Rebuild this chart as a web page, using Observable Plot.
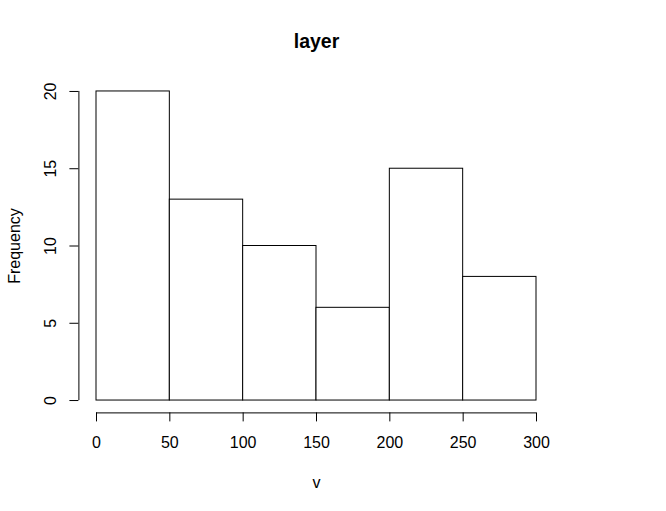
<!DOCTYPE html>
<html>
<head>
<meta charset="utf-8">
<script src="https://cdn.jsdelivr.net/npm/d3@7"></script>
<script src="https://cdn.jsdelivr.net/npm/@observablehq/plot@0.6"></script>
<style>
  html, body { margin: 0; padding: 0; background: #fff; }
</style>
</head>
<body>
<div id="chart"></div>
<script>
const binStart = [0, 50, 100, 150, 200, 250];
const binEnd   = [50, 100, 150, 200, 250, 300];
const counts   = [20, 13, 10, 6, 15, 8];
const xTicks   = [0, 50, 100, 150, 200, 250, 300];
const yTicks   = [0, 5, 10, 15, 20];
const title    = "layer";
const xLabel   = "v";
const yLabel   = "Frequency";

const bins = binStart.map((s, i) => ({x1: s, x2: binEnd[i], y: counts[i]}));

const font = "'Liberation Sans', Arial, Helvetica, sans-serif";

const chart = Plot.plot({
  width: 666,
  height: 511,
  marginLeft: 78.4,
  marginRight: 112.4,
  marginTop: 78.6,
  marginBottom: 98.6,
  style: {fontFamily: font, background: "#fff", color: "#000"},
  x: {domain: [-12, 312], axis: null},
  y: {domain: [-0.8, 20.8], axis: null},
  marks: [
    Plot.rect(bins, {x1: "x1", x2: "x2", y1: 0, y2: "y", fill: "white", stroke: "black", strokeWidth: 1}),
    // x axis line + ticks
    Plot.ruleY([-0.8], {x1: 0, x2: 300, stroke: "black"}),
    Plot.axisX({ticks: xTicks, tickSize: 9, tickFormat: () => "", label: null, stroke: "black"}),
    Plot.text(xTicks, {x: d => d, frameAnchor: "bottom", dy: 29.6, lineAnchor: "middle", textAnchor: "middle", text: d => String(d), fontSize: 16, fill: "black"}),
    // y axis line + ticks
    Plot.ruleX([-12], {y1: 0, y2: 20, stroke: "black"}),
    Plot.axisY({ticks: yTicks, tickSize: 9, tickFormat: () => "", label: null, stroke: "black"}),
    Plot.text(yTicks, {y: d => d, frameAnchor: "left", dx: -28.4, rotate: -90, lineAnchor: "middle", textAnchor: "middle", text: d => String(d), fontSize: 16, fill: "black"}),
    // titles
    Plot.text([title], {frameAnchor: "top", dy: -37.6, lineAnchor: "middle", textAnchor: "middle", fontSize: 19.5, fontWeight: "bold", fill: "black"}),
    Plot.text([xLabel], {frameAnchor: "bottom", dy: 69.6, lineAnchor: "middle", textAnchor: "middle", fontSize: 16, fill: "black"}),
    Plot.text([yLabel], {frameAnchor: "left", dx: -64.4, rotate: -90, lineAnchor: "middle", textAnchor: "middle", fontSize: 16, fill: "black"})
  ]
});
document.getElementById("chart").appendChild(chart);
</script>
</body>
</html>
